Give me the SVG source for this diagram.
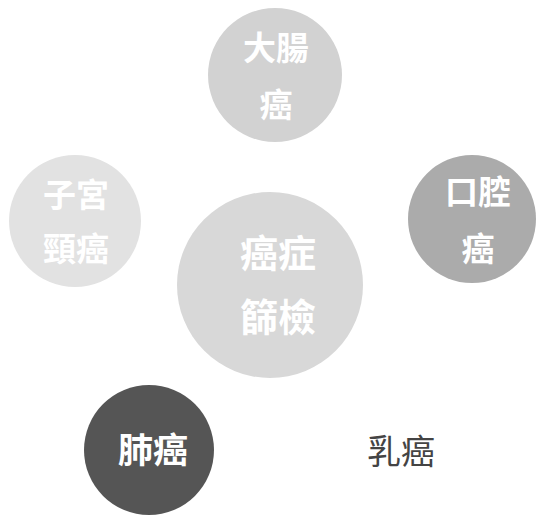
<svg xmlns="http://www.w3.org/2000/svg" width="540" height="518" viewBox="0 0 540 518">
<style>
.t{font-family:"Noto Sans CJK TC","Noto Sans CJK SC",sans-serif;font-weight:bold;fill:#ffffff;text-anchor:middle;dominant-baseline:central}
.plain{font-family:"Noto Sans CJK TC","Noto Sans CJK SC",sans-serif;fill:#444444;text-anchor:middle;dominant-baseline:central;font-size:34px}
</style>
<rect width="540" height="518" fill="#ffffff"/>
<g id="connectors"></g>
<g id="node-top">
<circle cx="275" cy="75" r="67" fill="#d2d2d2"/>
<text class="t" x="276" y="46" font-size="33">大腸</text>
<text class="t" x="276" y="103" font-size="33">癌</text>
</g>
<g id="node-left">
<circle cx="75" cy="221" r="66" fill="#e2e2e2"/>
<text class="t" x="76" y="193" font-size="33">子宮</text>
<text class="t" x="76" y="247" font-size="33">頸癌</text>
</g>
<g id="node-right">
<circle cx="472" cy="219" r="64" fill="#ababab"/>
<text class="t" x="478" y="190" font-size="33">口腔</text>
<text class="t" x="478" y="247" font-size="33">癌</text>
</g>
<g id="node-center">
<circle cx="270" cy="285" r="93" fill="#d8d8d8"/>
<text class="t" x="278" y="250" font-size="38">癌症</text>
<text class="t" x="278" y="314" font-size="38">篩檢</text>
</g>
<g id="node-lung">
<circle cx="149" cy="450" r="65" fill="#555555"/>
<text class="t" x="153" y="447" font-size="35">肺癌</text>
</g>
<g id="node-breast">
<text class="plain" x="401" y="449">乳癌</text>
</g>
</svg>
